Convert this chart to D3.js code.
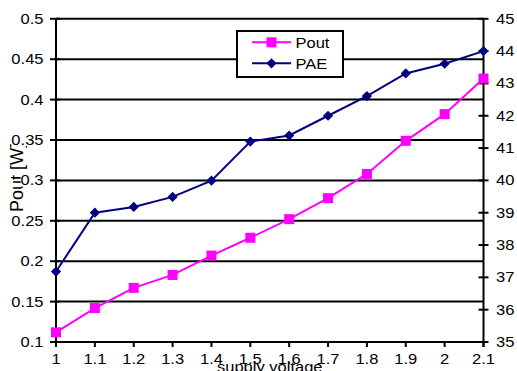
<!DOCTYPE html>
<html><head><meta charset="utf-8">
<script src="https://cdn.jsdelivr.net/npm/d3@7"></script>
<style>
html,body{margin:0;padding:0;background:#fff;}
svg{display:block;}
text{font-family:"Liberation Sans",Arial,sans-serif;fill:#000;}
</style></head>
<body>
<svg id="c" width="517" height="371"></svg>
<script>
const voltages = [1, 1.1, 1.2, 1.3, 1.4, 1.5, 1.6, 1.7, 1.8, 1.9, 2, 2.1];
const pout = [0.112, 0.142, 0.167, 0.183, 0.207, 0.229, 0.252, 0.278, 0.308, 0.349, 0.382, 0.426];
const pae = [37.18, 39.0, 39.18, 39.49, 39.99, 41.2, 41.39, 42.0, 42.61, 43.31, 43.61, 44.0];
const leftTicks = [0.1, 0.15, 0.2, 0.25, 0.3, 0.35, 0.4, 0.45, 0.5];
const rightTicks = [35, 36, 37, 38, 39, 40, 41, 42, 43, 44, 45];
const seriesNames = ["Pout", "PAE"];
const xLabel = "supply voltage";
const yLabel = "Pout [W]";

const svg = d3.select("#c");
const L = 56, R = 483.5, T = 18.8, B = 342;
const sx = 1.18, fs = 14;

const x = d3.scaleLinear().domain([1, 2.1]).range([L, R]);
const yL = d3.scaleLinear().domain([0.1, 0.5]).range([B, T]);
const yR = d3.scaleLinear().domain([35, 45]).range([B, T]);

function label(g, tx, ty, str, anchor, size) {
  return g.append("text")
    .attr("transform", `translate(${tx},${ty}) scale(${sx},1)`)
    .attr("text-anchor", anchor)
    .style("font-size", (size || fs) + "px")
    .text(str);
}

// gridlines
svg.append("g").selectAll("line").data(leftTicks).join("line")
  .attr("x1", L).attr("x2", R)
  .attr("y1", d => yL(d)).attr("y2", d => yL(d))
  .attr("stroke", "#000").attr("stroke-width", 2);

// y title
svg.append("text")
  .attr("transform", `translate(23,177.5) rotate(-90)`)
  .attr("text-anchor", "middle")
  .style("font-size", "18px")
  .text(yLabel);

// left axis
const gl = svg.append("g");
gl.append("line").attr("x1", L).attr("x2", L).attr("y1", T).attr("y2", B + 5)
  .attr("stroke", "#000").attr("stroke-width", 2);
gl.selectAll("line.t").data(leftTicks).join("line").attr("class", "t")
  .attr("x1", L - 6).attr("x2", L + 4)
  .attr("y1", d => yL(d)).attr("y2", d => yL(d))
  .attr("stroke", "#000").attr("stroke-width", 2);
leftTicks.forEach(d => {
  const bg = gl.append("rect").attr("fill", "#fff");
  const t = label(gl, 43.5, yL(d) + 5, d3.format("")(d), "end");
  const w = t.node().getComputedTextLength() * sx;
  bg.attr("x", 43.5 - w).attr("y", yL(d) - 6).attr("width", w).attr("height", 12);
});

// right axis
const gr = svg.append("g");
gr.append("line").attr("x1", R).attr("x2", R).attr("y1", T).attr("y2", B + 5)
  .attr("stroke", "#000").attr("stroke-width", 2);
gr.selectAll("line.t").data(rightTicks).join("line").attr("class", "t")
  .attr("x1", R - 5).attr("x2", R + 5)
  .attr("y1", d => yR(d)).attr("y2", d => yR(d))
  .attr("stroke", "#000").attr("stroke-width", 2);
rightTicks.forEach(d => label(gr, 496, yR(d) + 5, String(d), "start"));

// bottom axis
const gb = svg.append("g");
gb.append("line").attr("x1", L).attr("x2", R).attr("y1", B).attr("y2", B)
  .attr("stroke", "#000").attr("stroke-width", 2);
gb.selectAll("line.t").data(voltages).join("line").attr("class", "t")
  .attr("x1", d => x(d)).attr("x2", d => x(d))
  .attr("y1", B).attr("y2", B + 5)
  .attr("stroke", "#000").attr("stroke-width", 2);
voltages.forEach(d => label(gb, x(d), 364, String(d), "middle"));
label(gb, (L + R) / 2, 372, xLabel, "middle");

// series
const colors = ["#ff00ff", "#000080"];
const linePout = d3.line().x((d, i) => x(voltages[i])).y(d => yL(d));
const linePae = d3.line().x((d, i) => x(voltages[i])).y(d => yR(d));

svg.append("path").datum(pout).attr("d", linePout)
  .attr("fill", "none").attr("stroke", colors[0]).attr("stroke-width", 2);
svg.append("g").selectAll("rect").data(pout).join("rect")
  .attr("x", (d, i) => x(voltages[i]) - 5).attr("y", d => yL(d) - 5)
  .attr("width", 10).attr("height", 10).attr("fill", colors[0]);

svg.append("path").datum(pae).attr("d", linePae)
  .attr("fill", "none").attr("stroke", colors[1]).attr("stroke-width", 2);
svg.append("g").selectAll("path").data(pae).join("path")
  .attr("transform", (d, i) => `translate(${x(voltages[i])},${yR(d)}) rotate(45)`)
  .attr("d", d3.symbol().type(d3.symbolSquare).size(52))
  .attr("fill", colors[1]);

// legend
const lg = svg.append("g");
lg.append("rect").attr("x", 237).attr("y", 31).attr("width", 106).attr("height", 46)
  .attr("fill", "#fff").attr("stroke", "#000").attr("stroke-width", 2);
const ly = [42.3, 63.3];
seriesNames.forEach((n, i) => {
  lg.append("line").attr("x1", 252).attr("x2", 291).attr("y1", ly[i]).attr("y2", ly[i])
    .attr("stroke", colors[i]).attr("stroke-width", 2);
  if (i === 0) {
    lg.append("rect").attr("x", 266.5).attr("y", ly[i] - 5).attr("width", 10).attr("height", 10)
      .attr("fill", colors[i]);
  } else {
    lg.append("path").attr("transform", `translate(271.5,${ly[i]}) rotate(45)`)
      .attr("d", d3.symbol().type(d3.symbolSquare).size(52)).attr("fill", colors[i]);
  }
  label(lg, 295.5, ly[i] + 5.3, n, "start");
});
</script>
</body></html>
